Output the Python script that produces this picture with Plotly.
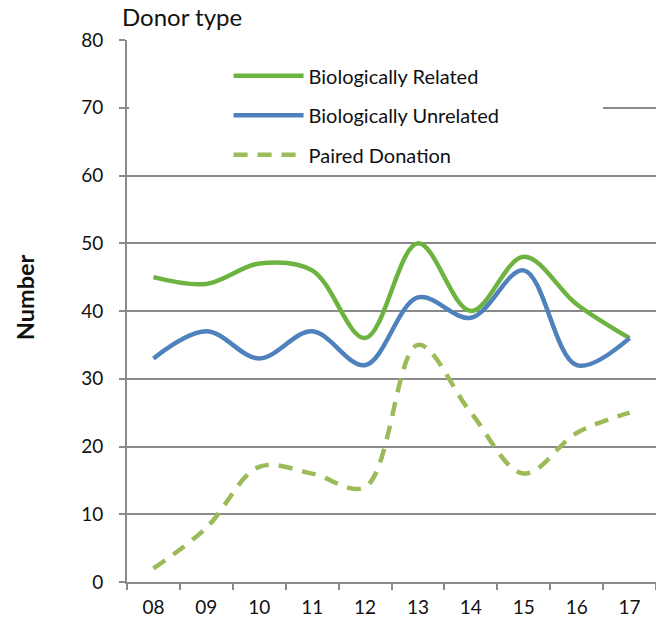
import plotly.graph_objects as go

years = ["08", "09", "10", "11", "12", "13", "14", "15", "16", "17"]
related = [45, 44, 47, 46, 36, 50, 40, 48, 41, 36]
unrelated = [33, 37, 33, 37, 32, 42, 39, 46, 32, 36]
paired = [2, 8, 17, 16, 14, 35, 25, 16, 22, 25]
y_ticks = [0, 10, 20, 30, 40, 50, 60, 70, 80]

FONT = "Lato"
GRID = "#8a8a8a"
TXT = "#111111"

fig = go.Figure()
fig.add_trace(go.Scatter(x=years, y=related, name="Biologically Related", mode="lines",
                         line=dict(color="#6db33f", width=4.5, shape="spline", smoothing=1),
                         legendgroup="a"))
fig.add_trace(go.Scatter(x=years, y=unrelated, name="Biologically Unrelated", mode="lines",
                         line=dict(color="#4f81bd", width=4.5, shape="spline", smoothing=1),
                         legendgroup="b"))
fig.add_trace(go.Scatter(x=years, y=paired, name="Paired Donation", mode="lines",
                         line=dict(color="#9bbb59", width=4.5, shape="spline", smoothing=1,
                                   dash="14px,10px"),
                         legendgroup="c"))

# white background behind the legend block (hides part of the gridlines)
fig.add_shape(type="rect", xref="paper", yref="paper", x0=0.004, x1=0.9, y0=0.757, y1=0.994,
              fillcolor="white", line=dict(width=0), layer="above")

fig.add_annotation(text="<b>Number</b>", xref="paper", yref="paper",
                   x=(25 - 127) / 530, y=(582 - 297) / 542, xanchor="center", yanchor="middle",
                   textangle=-90, showarrow=False,
                   font=dict(family=FONT, size=23.5, color=TXT))

fig.update_layout(
    width=656, height=621,
    margin=dict(l=127, r=0, t=40, b=39),
    paper_bgcolor="white", plot_bgcolor="white",
    font=dict(family=FONT, size=19, color=TXT),
    title=dict(text="Donor type", x=122/656, xanchor="left", xref="container",
               y=1-18/621, yanchor="middle", yref="container",
               font=dict(family=FONT, size=24, color=TXT)),
    showlegend=True,
    legend=dict(x=0.192, y=0.970, xanchor="left", yanchor="top", bgcolor="rgba(0,0,0,0)",
                itemwidth=70, tracegroupgap=10.5, font=dict(family=FONT, size=20, color=TXT)),
    xaxis=dict(type="category", range=[-0.5, 9.5], showgrid=False, showline=True,
               linecolor=GRID, linewidth=2, ticks="outside", ticklen=6, tickwidth=2,
               tickcolor=GRID, tickson="boundaries", ticklabelstandoff=7,
               tickfont=dict(family=FONT, size=19, color=TXT)),
    yaxis=dict(range=[0, 80], tickvals=y_ticks, showgrid=True, gridcolor=GRID, gridwidth=1.5,
               showline=True, linecolor=GRID, linewidth=2, ticks="outside", ticklen=6,
               tickwidth=2, tickcolor=GRID, ticklabelstandoff=12, zeroline=False,
               tickfont=dict(family=FONT, size=19, color=TXT)),
)

fig.write_html("out.html", config={"displayModeBar": False},
               post_script="document.body.style.margin='0px';")
